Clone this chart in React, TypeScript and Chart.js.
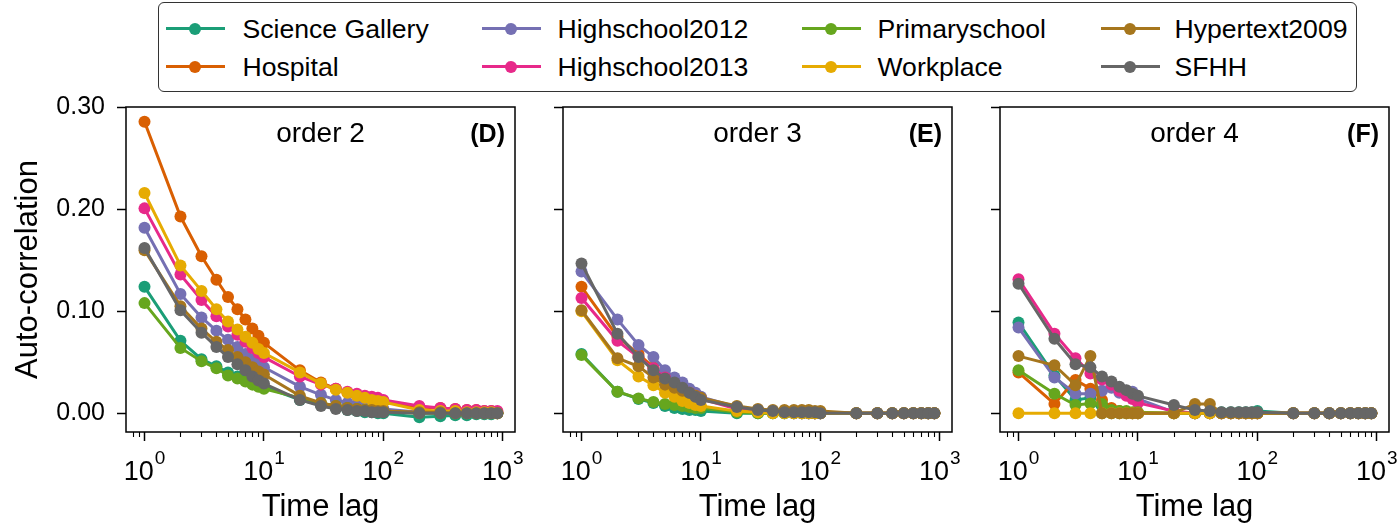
import React, { useEffect, useRef } from 'react';
import { Chart, registerables } from 'chart.js';

Chart.register(...registerables);

const FONT = '"Liberation Sans", Arial, Helvetica, sans-serif';

// ---------------- data ----------------
const TIME_LAGS = [1, 2, 3, 4, 5, 6, 7, 8, 9, 10, 20, 30, 40, 50, 60, 70, 80, 90, 100, 200, 300, 400, 500, 600, 700, 800, 900];

const SERIES_NAMES = ['Science Gallery', 'Hospital', 'Highschool2012', 'Highschool2013', 'Primaryschool', 'Workplace', 'Hypertext2009', 'SFHH'];
const SERIES_COLORS = ['#1b9e77', '#d95f02', '#7570b3', '#e7298a', '#66a61e', '#e6ab02', '#a6761d', '#666666'];

const PANEL_TITLES = ['order 2', 'order 3', 'order 4'];
const PANEL_LETTERS = ['(D)', '(E)', '(F)'];

const Y_TICKS = [0, 0.1, 0.2, 0.3];
const Y_TICK_LABELS = ['0.00', '0.10', '0.20', '0.30'];
const X_MAJOR_TICKS = [1, 10, 100, 1000];
const X_TICK_EXPONENTS = ['0', '1', '2', '3'];
const X_MINOR_TICKS = [0.8, 0.9, 2, 3, 4, 5, 6, 7, 8, 9, 20, 30, 40, 50, 60, 70, 80, 90, 200, 300, 400, 500, 600, 700, 800, 900];

// order 2 (D)
const order2ScienceGallery = [0.124, 0.071, 0.053, 0.046, 0.040, 0.036, 0.033, 0.030, 0.028, 0.026, 0.013, 0.008, 0.005, 0.003, 0.002, 0.001, 0.001, 0.000, 0.000, -0.004, -0.003, -0.002, -0.002, -0.001, -0.001, -0.001, 0.000];
const order2Hospital = [0.286, 0.193, 0.154, 0.131, 0.114, 0.102, 0.092, 0.083, 0.076, 0.069, 0.042, 0.030, 0.024, 0.020, 0.017, 0.015, 0.013, 0.012, 0.011, 0.006, 0.005, 0.004, 0.003, 0.003, 0.002, 0.002, 0.001];
const order2Highschool2012 = [0.182, 0.117, 0.094, 0.081, 0.072, 0.065, 0.058, 0.053, 0.049, 0.045, 0.026, 0.018, 0.013, 0.010, 0.008, 0.007, 0.006, 0.005, 0.004, 0.001, 0.001, 0.001, 0.000, 0.000, 0.000, 0.000, 0.000];
const order2Highschool2013 = [0.201, 0.136, 0.111, 0.095, 0.085, 0.077, 0.070, 0.064, 0.059, 0.055, 0.036, 0.028, 0.024, 0.021, 0.019, 0.017, 0.016, 0.015, 0.013, 0.007, 0.005, 0.004, 0.003, 0.003, 0.002, 0.002, 0.002];
const order2Primaryschool = [0.108, 0.064, 0.051, 0.044, 0.037, 0.034, 0.031, 0.028, 0.026, 0.024, 0.015, 0.010, 0.007, 0.005, 0.004, 0.003, 0.003, 0.002, 0.002, 0.000, 0.000, 0.000, 0.000, 0.000, 0.000, 0.000, 0.000];
const order2Workplace = [0.216, 0.145, 0.120, 0.102, 0.090, 0.082, 0.075, 0.069, 0.063, 0.059, 0.040, 0.029, 0.023, 0.020, 0.017, 0.015, 0.013, 0.012, 0.011, 0.003, 0.002, 0.002, 0.001, 0.001, 0.001, 0.001, 0.000];
const order2Hypertext2009 = [0.160, 0.105, 0.083, 0.070, 0.062, 0.055, 0.050, 0.045, 0.041, 0.038, 0.017, 0.010, 0.007, 0.005, 0.004, 0.003, 0.003, 0.002, 0.002, 0.001, 0.001, 0.000, 0.000, 0.000, 0.000, 0.000, 0.000];
const order2SFHH = [0.162, 0.101, 0.079, 0.065, 0.055, 0.048, 0.042, 0.036, 0.032, 0.029, 0.013, 0.007, 0.004, 0.003, 0.002, 0.002, 0.001, 0.001, 0.001, 0.000, 0.000, 0.000, 0.000, 0.000, 0.000, 0.000, 0.000];

// order 3 (E)
const order3ScienceGallery = [0.058, 0.021, 0.014, 0.010, 0.007, 0.005, 0.004, 0.003, 0.003, 0.002, 0.000, 0.000, 0.000, 0.000, 0.000, 0.000, 0.000, 0.000, 0.000, 0.000, 0.000, 0.000, 0.000, 0.000, 0.000, 0.000, 0.000];
const order3Hospital = [0.124, 0.075, 0.058, 0.045, 0.036, 0.030, 0.025, 0.021, 0.018, 0.015, 0.005, 0.003, 0.002, 0.001, 0.001, 0.001, 0.001, 0.000, 0.000, 0.000, 0.000, 0.000, 0.000, 0.000, 0.000, 0.000, 0.000];
const order3Highschool2012 = [0.139, 0.092, 0.067, 0.055, 0.042, 0.035, 0.030, 0.024, 0.020, 0.016, 0.006, 0.003, 0.002, 0.001, 0.001, 0.000, 0.000, 0.000, 0.000, 0.000, 0.000, 0.000, 0.000, 0.000, 0.000, 0.000, 0.000];
const order3Highschool2013 = [0.113, 0.071, 0.055, 0.044, 0.035, 0.029, 0.024, 0.020, 0.017, 0.014, 0.004, 0.002, 0.001, 0.001, 0.000, 0.000, 0.000, 0.000, 0.000, 0.000, 0.000, 0.000, 0.000, 0.000, 0.000, 0.000, 0.000];
const order3Primaryschool = [0.057, 0.021, 0.0145, 0.011, 0.009, 0.008, 0.007, 0.006, 0.005, 0.005, 0.001, 0.000, 0.000, 0.000, 0.000, 0.000, 0.000, 0.000, 0.000, 0.000, 0.000, 0.000, 0.000, 0.000, 0.000, 0.000, 0.000];
const order3Workplace = [0.100, 0.052, 0.036, 0.0275, 0.020, 0.016, 0.012, 0.010, 0.008, 0.007, 0.002, 0.001, 0.000, 0.000, 0.000, 0.000, 0.000, 0.000, 0.000, 0.000, 0.000, 0.000, 0.000, 0.000, 0.000, 0.000, 0.000];
const order3Hypertext2009 = [0.101, 0.054, 0.046, 0.035, 0.028, 0.025, 0.022, 0.020, 0.017, 0.015, 0.007, 0.004, 0.003, 0.003, 0.003, 0.003, 0.003, 0.002, 0.002, 0.000, 0.000, 0.000, 0.000, 0.000, 0.000, 0.000, 0.000];
const order3SFHH = [0.147, 0.078, 0.055, 0.042, 0.034, 0.030, 0.025, 0.020, 0.016, 0.013, 0.006, 0.003, 0.002, 0.001, 0.001, 0.001, 0.001, 0.001, 0.000, 0.000, 0.000, 0.000, 0.000, 0.000, 0.000, 0.000, 0.000];

// order 4 (F)
const order4ScienceGallery = [0.089, 0.037, 0.013, 0.015, 0.000, 0.000, 0.000, 0.000, 0.000, 0.000, 0.000, 0.000, 0.001, 0.001, 0.001, 0.001, 0.001, 0.001, 0.002, 0.000, 0.000, 0.000, 0.000, 0.000, 0.000, 0.000, 0.000];
const order4Hospital = [0.040, 0.009, 0.0325, 0.024, 0.013, 0.005, 0.002, 0.001, 0.000, 0.000, 0.000, 0.000, 0.000, 0.000, 0.000, 0.000, 0.000, 0.000, 0.000, 0.000, 0.000, 0.000, 0.000, 0.000, 0.000, 0.000, 0.000];
const order4Highschool2012 = [0.084, 0.035, 0.019, 0.019, 0.022, 0.025, 0.020, 0.022, 0.021, 0.014, 0.001, 0.000, 0.000, 0.000, 0.000, 0.000, 0.000, 0.000, 0.000, 0.000, 0.000, 0.000, 0.000, 0.000, 0.000, 0.000, 0.000];
const order4Highschool2013 = [0.1315, 0.078, 0.054, 0.039, 0.033, 0.028, 0.022, 0.017, 0.014, 0.010, 0.002, 0.000, 0.000, 0.000, 0.000, 0.000, 0.000, 0.000, 0.000, 0.000, 0.000, 0.000, 0.000, 0.000, 0.000, 0.000, 0.000];
const order4Primaryschool = [0.042, 0.019, 0.008, 0.0095, 0.009, 0.003, 0.002, 0.002, 0.001, 0.001, 0.000, 0.000, 0.000, 0.000, 0.000, 0.000, 0.000, 0.000, 0.000, 0.000, 0.000, 0.000, 0.000, 0.000, 0.000, 0.000, 0.000];
const order4Workplace = [0.000, 0.000, 0.000, 0.000, 0.000, 0.000, 0.000, 0.000, 0.000, 0.000, 0.000, 0.000, 0.000, 0.000, 0.000, 0.000, 0.000, 0.000, 0.000, 0.000, 0.000, 0.000, 0.000, 0.000, 0.000, 0.000, 0.000];
const order4Hypertext2009 = [0.056, 0.047, 0.0275, 0.056, 0.000, 0.000, 0.000, 0.000, 0.000, 0.000, 0.000, 0.009, 0.009, 0.000, 0.000, 0.000, 0.000, 0.000, 0.000, 0.000, 0.000, 0.000, 0.000, 0.000, 0.000, 0.000, 0.000];
const order4SFHH = [0.127, 0.073, 0.048, 0.045, 0.036, 0.031, 0.026, 0.0226, 0.019, 0.017, 0.008, 0.003, 0.002, 0.001, 0.001, 0.001, 0.001, 0.001, 0.001, 0.000, 0.000, 0.000, 0.000, 0.000, 0.000, 0.000, 0.000];

const PANEL_SERIES = [
  [order2ScienceGallery, order2Hospital, order2Highschool2012, order2Highschool2013, order2Primaryschool, order2Workplace, order2Hypertext2009, order2SFHH],
  [order3ScienceGallery, order3Hospital, order3Highschool2012, order3Highschool2013, order3Primaryschool, order3Workplace, order3Hypertext2009, order3SFHH],
  [order4ScienceGallery, order4Hospital, order4Highschool2012, order4Highschool2013, order4Primaryschool, order4Workplace, order4Hypertext2009, order4SFHH],
];

// axis limits (matplotlib-like 5% margins)
const X_MIN = 0.7116;
const X_MAX = 1264.6;
const Y_MIN = -0.0185;
const Y_MAX = 0.3005;

// ---------------- layout ----------------
const PANEL_LAYOUT = [
  { left: 0, width: 530, yWidth: 126, padRight: 15, showYLabels: true },
  { left: 530, width: 435, yWidth: 33, padRight: 13, showYLabels: false },
  { left: 965, width: 432, yWidth: 35, padRight: 8, showYLabels: false },
];
const PANEL_TOP = 95;
const PANEL_HEIGHT = 431;

const LEGEND_COLS = [
  { handle: 166, text: 243 },
  { handle: 482, text: 558 },
  { handle: 802, text: 878 },
  { handle: 1101, text: 1175 },
];
const LEGEND_ROWS = [29, 67];

const panelDecor = (idx: number) => ({
  id: 'panelDecor' + idx,
  afterDraw(chart: any) {
    const { ctx, chartArea } = chart;
    const xs = chart.scales.x;
    ctx.save();
    // frame
    ctx.strokeStyle = '#000';
    ctx.lineWidth = 1.5;
    ctx.strokeRect(chartArea.left, chartArea.top, chartArea.right - chartArea.left, chartArea.bottom - chartArea.top);
    // minor ticks
    ctx.lineWidth = 1.1;
    X_MINOR_TICKS.forEach((v) => {
      if (v < X_MIN || v > X_MAX) return;
      const px = Math.round(xs.getPixelForValue(v)) + 0.5;
      ctx.beginPath();
      ctx.moveTo(px, chartArea.bottom);
      ctx.lineTo(px, chartArea.bottom + 5);
      ctx.stroke();
    });
    // x tick labels 10^n
    ctx.fillStyle = '#000';
    ctx.textBaseline = 'alphabetic';
    ctx.textAlign = 'left';
    const baseY = chartArea.bottom + 48;
    X_MAJOR_TICKS.forEach((v, i) => {
      const px = xs.getPixelForValue(v);
      ctx.font = `27px ${FONT}`;
      const bw = ctx.measureText('10').width;
      ctx.font = `19px ${FONT}`;
      const ew = ctx.measureText(X_TICK_EXPONENTS[i]).width;
      const start = px - (bw + ew + 1) / 2;
      ctx.font = `27px ${FONT}`;
      ctx.fillText('10', start, baseY);
      ctx.font = `19px ${FONT}`;
      ctx.fillText(X_TICK_EXPONENTS[i], start + bw + 1, baseY - 16);
    });
    // titles inside
    ctx.font = `28px ${FONT}`;
    ctx.textAlign = 'center';
    ctx.fillText(PANEL_TITLES[idx], (chartArea.left + chartArea.right) / 2, chartArea.top + 35);
    ctx.font = `bold 25px ${FONT}`;
    ctx.textAlign = 'right';
    ctx.fillText(PANEL_LETTERS[idx], chartArea.right - 10, chartArea.top + 35);
    ctx.restore();
  },
});

function Panel({ idx }: { idx: number }) {
  const ref = useRef<HTMLCanvasElement | null>(null);
  const lay = PANEL_LAYOUT[idx];
  useEffect(() => {
    const series = PANEL_SERIES[idx];
    const chart = new Chart(ref.current as HTMLCanvasElement, {
      type: 'line',
      data: {
        datasets: SERIES_NAMES.map((name, i) => ({
          label: name,
          data: TIME_LAGS.map((x, j) => ({ x, y: series[i][j] })),
          borderColor: SERIES_COLORS[i],
          backgroundColor: SERIES_COLORS[i],
          pointBackgroundColor: SERIES_COLORS[i],
          pointBorderColor: SERIES_COLORS[i],
          pointRadius: 6,
          pointBorderWidth: 0,
          borderWidth: 3,
          tension: 0,
          order: SERIES_NAMES.length - i,
        })),
      },
      options: {
        animation: false,
        responsive: false,
        events: [],
        layout: { padding: { top: 12, right: lay.padRight, left: 0, bottom: 0 } },
        plugins: { legend: { display: false }, tooltip: { enabled: false } },
        scales: {
          x: {
            type: 'logarithmic',
            min: X_MIN,
            max: X_MAX,
            afterBuildTicks: (s: any) => {
              s.ticks = X_MAJOR_TICKS.filter((v) => v >= X_MIN && v <= X_MAX).map((v) => ({ value: v }));
            },
            ticks: { display: false },
            grid: {
              drawOnChartArea: false,
              drawTicks: true,
              tickLength: 9,
              tickWidth: 1.5,
              tickColor: '#000',
            },
            border: { display: false },
            title: {
              display: true,
              text: 'Time lag',
              color: '#000',
              font: { size: 31, family: FONT },
              padding: { top: 0, bottom: 0 },
            },
            afterFit: (s: any) => {
              s.height = 94;
              s.paddingLeft = 0;
              s.paddingRight = 0;
            },
          },
          y: {
            type: 'linear',
            min: Y_MIN,
            max: Y_MAX,
            afterBuildTicks: (s: any) => {
              s.ticks = Y_TICKS.map((v) => ({ value: v }));
            },
            ticks: {
              display: lay.showYLabels,
              color: '#000',
              font: { size: 25, family: FONT },
              padding: 12,
              callback: (v: any) => Y_TICK_LABELS[Y_TICKS.indexOf(v)] ?? '',
            },
            grid: {
              drawOnChartArea: false,
              drawTicks: true,
              tickLength: 9,
              tickWidth: 1.5,
              tickColor: '#000',
            },
            border: { display: false },
            title: {
              display: lay.showYLabels,
              text: 'Auto-correlation',
              color: '#000',
              font: { size: 31, family: FONT },
              padding: { top: 10, bottom: 0 },
            },
            afterFit: (s: any) => {
              s.width = lay.yWidth;
              s.paddingTop = 0;
              s.paddingBottom = 0;
            },
          },
        },
      },
      plugins: [panelDecor(idx)],
    } as any);
    return () => chart.destroy();
  }, [idx]);
  return (
    <div style={{ position: 'absolute', left: lay.left, top: PANEL_TOP, width: lay.width, height: PANEL_HEIGHT }}>
      <canvas ref={ref} width={lay.width} height={PANEL_HEIGHT} style={{ display: 'block' }} />
    </div>
  );
}

function Legend() {
  return (
    <div
      style={{
        position: 'absolute',
        left: 158,
        top: 2,
        width: 1197,
        height: 88,
        border: '1.5px solid #333',
        borderRadius: 6,
        background: '#fff',
      }}
    >
      {SERIES_NAMES.map((name, i) => {
        const col = LEGEND_COLS[Math.floor(i / 2)];
        const rowY = LEGEND_ROWS[i % 2];
        const ox = 158 + 1.5;
        const oy = 2 + 1.5;
        return (
          <React.Fragment key={name}>
            <div
              style={{
                position: 'absolute',
                left: col.handle - ox,
                top: rowY - oy - 1.75,
                width: 59,
                height: 3.5,
                background: SERIES_COLORS[i],
              }}
            />
            <div
              style={{
                position: 'absolute',
                left: col.handle + 29.5 - 6 - ox,
                top: rowY - oy - 6,
                width: 12,
                height: 12,
                borderRadius: '50%',
                background: SERIES_COLORS[i],
              }}
            />
            <div
              style={{
                position: 'absolute',
                left: col.text - ox,
                top: rowY - oy - 16,
                height: 32,
                lineHeight: '32px',
                fontFamily: FONT,
                fontSize: 26.6,
                color: '#000',
                whiteSpace: 'nowrap',
              }}
            >
              {name}
            </div>
          </React.Fragment>
        );
      })}
    </div>
  );
}

export default function App() {
  return (
    <div style={{ position: 'absolute', left: 0, top: 0, width: 1397, height: 526, background: '#fff', overflow: 'hidden' }}>
      <Legend />
      {[0, 1, 2].map((i) => (
        <Panel key={i} idx={i} />
      ))}
    </div>
  );
}
